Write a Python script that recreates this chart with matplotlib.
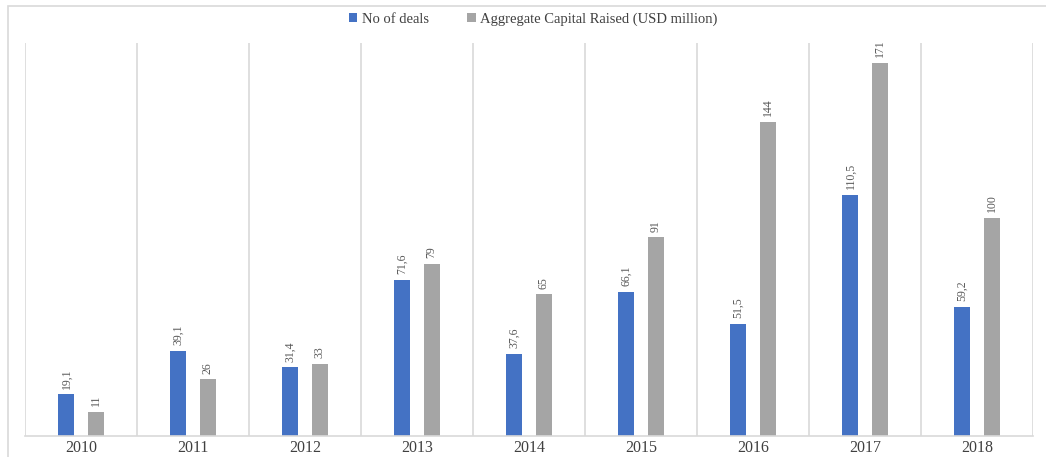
import matplotlib.pyplot as plt
import numpy as np
from matplotlib.patches import Rectangle

years = ['2010', '2011', '2012', '2013', '2014', '2015', '2016', '2017', '2018']
deals = [19.1, 39.1, 31.4, 71.6, 37.6, 66.1, 51.5, 110.5, 59.2]
capital = [11, 26, 33, 79, 65, 91, 144, 171, 100]

plt.rcParams['font.family'] = ['Liberation Serif', 'DejaVu Serif']

fig = plt.figure(figsize=(10.46, 4.57), dpi=100)
W, H = 1046, 457
ax = fig.add_axes([25 / W, (H - 436) / H, (1033 - 25) / W, (436 - 43) / H])

# outer frame (chart area border)
fig.patches.append(Rectangle((8 / W, -0.01), 1.0, (H - 6) / H + 0.01, transform=fig.transFigure,
                             fill=False, edgecolor='#D9D9D9', lw=1.2))

x = np.arange(len(years))
w = 0.143
off = 0.13
b1 = ax.bar(x - off, deals, w, color='#4472C4', label='No of deals')
b2 = ax.bar(x + off, capital, w, color='#A5A5A5', label='Aggregate Capital Raised (USD million)')

lab_kw = dict(rotation=90, ha='center', va='bottom', fontsize=8.5, color='#595959')
for xi, v in zip(x, deals):
    ax.annotate(f'{v:.1f}'.replace('.', ','), (xi - off, v), xytext=(0, 4),
                textcoords='offset points', **lab_kw)
for xi, v in zip(x, capital):
    ax.annotate(str(v), (xi + off, v), xytext=(0, 4),
                textcoords='offset points', **lab_kw)

ax.set_xlim(-0.5, len(years) - 0.5)
ax.set_ylim(0, 180)
for b in np.arange(len(years) + 1) - 0.5:
    ax.axvline(b, color='#D9D9D9', lw=1.2, zorder=0)

ax.set_xticks(x)
ax.set_xticklabels(years, fontsize=11.5, color='#404040')
ax.tick_params(axis='x', length=0, pad=3)
ax.set_yticks([])
for s in ['top', 'left', 'right']:
    ax.spines[s].set_visible(False)
ax.spines['bottom'].set_color('#D9D9D9')
ax.spines['bottom'].set_linewidth(1.2)

fig.legend(handles=[b1, b2], loc='center', bbox_to_anchor=(533 / W, (H - 19) / H),
           ncol=2, frameon=False, fontsize=10.5, handlelength=0.6, handleheight=0.6,
           columnspacing=2.6, handletextpad=0.3, labelcolor='#404040')

fig.savefig('out.png', dpi=100)
